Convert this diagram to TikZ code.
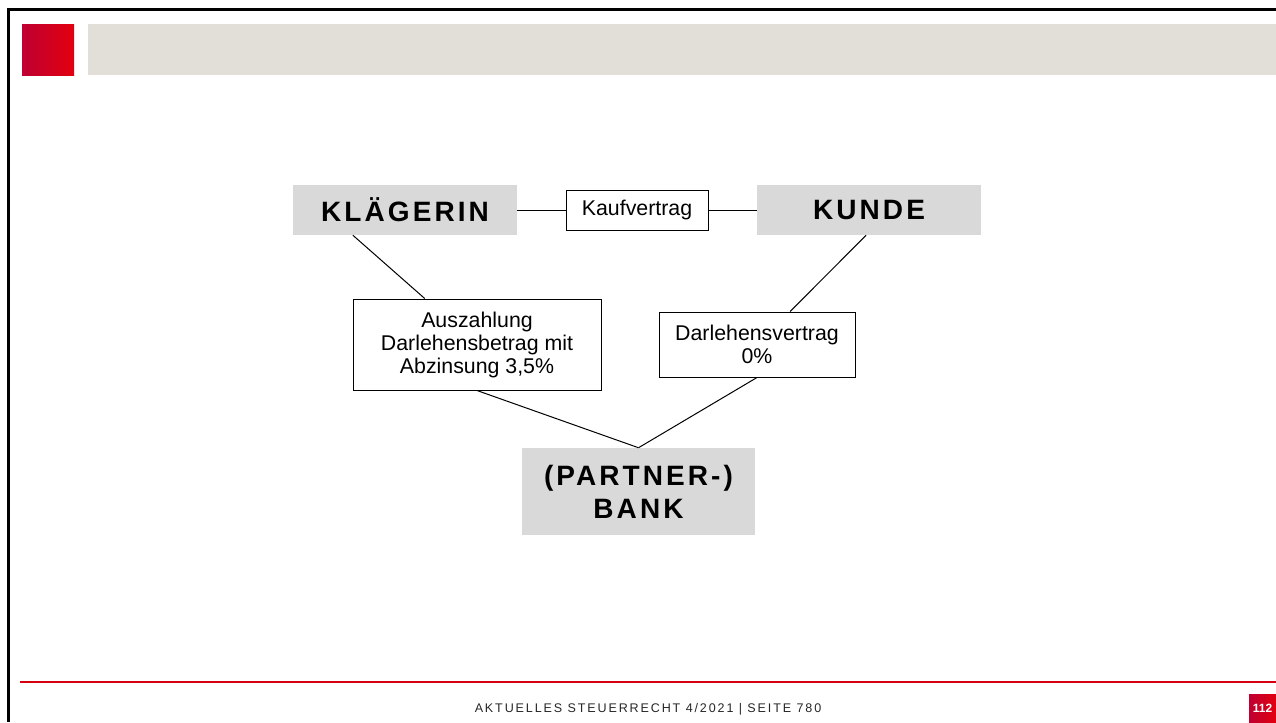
\documentclass[tikz,border=0pt]{standalone}
\usepackage{fontspec}
\setmainfont{Liberation Sans}
\usetikzlibrary{calc}
\definecolor{hdrgray}{HTML}{E2DED8}
\definecolor{boxgray}{HTML}{D9D9D9}
\definecolor{redA}{HTML}{BE0032}
\definecolor{redB}{HTML}{E2000F}
\definecolor{lineRed}{HTML}{D40010}
\tikzset{
  party/.style={fill=boxgray, inner sep=0pt, align=center,
    font=\fontsize{21}{24.75}\selectfont\bfseries\addfontfeatures{LetterSpace=11}},
  info/.style={draw=black, line width=0.75pt, fill=white, inner sep=0pt, align=center,
    font=\fontsize{16}{17.25}\selectfont},
  conn/.style={draw=black, line width=0.75pt}
}
\begin{document}
\begin{tikzpicture}[x=0.75pt,y=-0.75pt]
\useasboundingbox (0,0) rectangle (1276,722);
% frame
\draw[line width=2.2pt, black] (8.5,9.5) -- (1276,9.5);
\draw[line width=1.9pt, black] (8.5,8) -- (8.5,722);
% header
\shade[left color=redA, right color=redB] (22,24) rectangle (74,75);
\fill[hdrgray] (88,24) rectangle (1276,75);
% footer
\draw[lineRed, line width=1.1pt] (20,682) -- (1276,682);
\node[font=\fontsize{9.4}{11}\selectfont\addfontfeatures{LetterSpace=15}, text=black!85] (foot) at (648,709) {AKTUELLES STEUERRECHT 4/2021 | SEITE 780};
\shade[left color=redA, right color=redB] (1249,694) rectangle (1276,722);
\node[font=\fontsize{9}{10}\selectfont\bfseries, text=white] (page) at (1262.5,708.5) {112};
% nodes
\node[party, minimum width=168pt, minimum height=37.5pt] (kl) at (405,210) {KLÄGERIN};
\node[info, minimum width=106.5pt, minimum height=30pt] (kauf) at (637,210) {Kaufvertrag};
\node[party, minimum width=168pt, minimum height=37.5pt] (ku) at (869,210) {KUNDE};
\node[info, minimum width=186pt, minimum height=68.25pt] (ausz) at (477,344.5) {Auszahlung\\Darlehensbetrag mit\\Abzinsung 3,5\%};
\node[info, minimum width=147pt, minimum height=48.75pt] (darl) at (757,344.5) {Darlehensvertrag\\0\%};
\node[party, minimum width=174.75pt, minimum height=65.25pt] (bank) at (638.5,491.5) {(PARTNER-)\\BANK};
% connectors
\draw[conn] (kl.east) -- (kauf.west);
\draw[conn] (kauf.east) -- (ku.west);
\draw[conn] ($(kl.south west)!0.268!(kl.south east)$) -- ($(ausz.north west)!0.29!(ausz.north east)$);
\draw[conn] ($(ku.south west)!0.487!(ku.south east)$) -- ($(darl.north west)!0.668!(darl.north east)$);
\draw[conn] (ausz.south) -- (bank.north);
\draw[conn] (darl.south) -- (bank.north);
\end{tikzpicture}
\end{document}
